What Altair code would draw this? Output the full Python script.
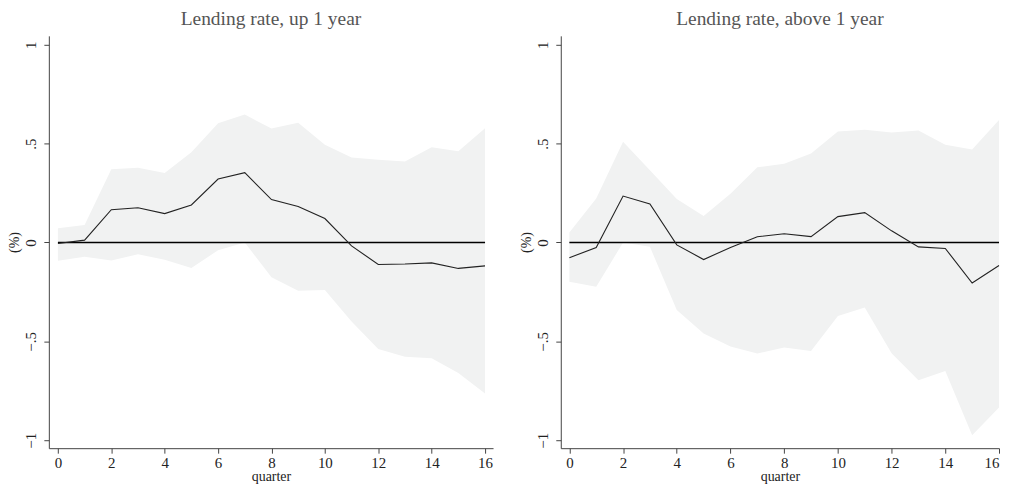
import altair as alt
import pandas as pd

quarters = list(range(17))

left_title = "Lending rate, up 1 year"
left_irf = [-0.005, 0.012, 0.166, 0.176, 0.146, 0.19, 0.321, 0.353, 0.217, 0.182,
            0.121, -0.017, -0.111, -0.109, -0.103, -0.131, -0.118]
left_hi = [0.072, 0.089, 0.37, 0.378, 0.351, 0.457, 0.603, 0.647, 0.576, 0.605,
           0.494, 0.43, 0.418, 0.41, 0.482, 0.461, 0.578]
left_lo = [-0.092, -0.072, -0.091, -0.059, -0.087, -0.129, -0.039, 0.0, -0.176, -0.244,
           -0.24, -0.4, -0.538, -0.578, -0.585, -0.66, -0.763]

right_title = "Lending rate, above 1 year"
right_irf = [-0.077, -0.025, 0.235, 0.195, -0.012, -0.086, -0.025, 0.029, 0.044, 0.03,
             0.131, 0.151, 0.059, -0.022, -0.03, -0.205, -0.116]
right_hi = [0.05, 0.222, 0.509, 0.365, 0.22, 0.134, 0.247, 0.38, 0.398, 0.45,
            0.561, 0.57, 0.556, 0.566, 0.494, 0.47, 0.62]
right_lo = [-0.198, -0.224, 0.0, -0.022, -0.341, -0.46, -0.526, -0.561, -0.531, -0.548,
            -0.371, -0.329, -0.56, -0.696, -0.65, -0.975, -0.834]

y_ticks = [-1, -0.5, 0, 0.5, 1]
x_ticks = [0, 2, 4, 6, 8, 10, 12, 14, 16]

FONT = "Liberation Serif"
AXIS_COLOR = "#444444"
Y_LABELS = ("datum.value == 1 ? '1' : datum.value == 0.5 ? '.5' : datum.value == 0 ? '0' : "
            "datum.value == -0.5 ? '\u2212.5' : '\u22121'")


def panel(title, irf, lo, hi, xdom, width):
    df = pd.DataFrame({"quarter": quarters, "irf": irf, "lo": lo, "hi": hi})
    zero = pd.DataFrame({"x0": [0], "x1": [16], "y": [0]})
    xs = alt.Scale(domain=xdom, nice=False, zero=False)
    ys = alt.Scale(domain=[-1.04, 1.045], nice=False, zero=False)
    xaxis = alt.Axis(values=x_ticks, title="quarter", grid=False, tickSize=5,
                     labelFontSize=15, titleFontSize=14, labelPadding=2, titlePadding=-1,
                     labelFont=FONT, titleFont=FONT, titleFontWeight="normal",
                     labelColor="#222", titleColor="#222", labelFlush=True,
                     domainColor=AXIS_COLOR, tickColor=AXIS_COLOR)
    yaxis = alt.Axis(values=y_ticks, title="(%)", grid=False, tickSize=5,
                     labelAngle=270, labelAlign="center", labelBaseline="bottom",
                     labelPadding=5, labelFontSize=15, titleFontSize=14, titlePadding=2,
                     labelFont=FONT, titleFont=FONT, titleFontWeight="normal",
                     labelColor="#222", titleColor="#222",
                     domainColor=AXIS_COLOR, tickColor=AXIS_COLOR,
                     labelExpr=Y_LABELS)
    band = alt.Chart(df).mark_area(color="#f1f2f2", opacity=1).encode(
        x=alt.X("quarter:Q", scale=xs, axis=xaxis),
        y=alt.Y("hi:Q", scale=ys, axis=yaxis),
        y2="lo:Q",
    )
    rule = alt.Chart(zero).mark_rule(color="#000000", strokeWidth=1.3).encode(
        x=alt.X("x0:Q", scale=xs), x2="x1:Q", y=alt.Y("y:Q", scale=ys)
    )
    line = alt.Chart(df).mark_line(color="#222222", strokeWidth=1.1).encode(
        x=alt.X("quarter:Q", scale=xs), y=alt.Y("irf:Q", scale=ys)
    )
    return alt.layer(band, rule, line).properties(
        width=width, height=414,
        title=alt.TitleParams(title, font=FONT, fontSize=19.5, fontWeight="normal",
                              color="#555555", anchor="middle", offset=6),
    )


chart = alt.hconcat(
    panel(left_title, left_irf, left_lo, left_hi, [-0.34, 16.3], 446),
    panel(right_title, right_irf, right_lo, right_hi, [-0.32, 16.0], 440),
    spacing=68, bounds="flush",
).properties(padding={"left": 0, "top": 0, "right": 0, "bottom": 0}).configure_view(stroke=None)

chart.save("out.html", embed_options={"renderer": "svg", "actions": False})
